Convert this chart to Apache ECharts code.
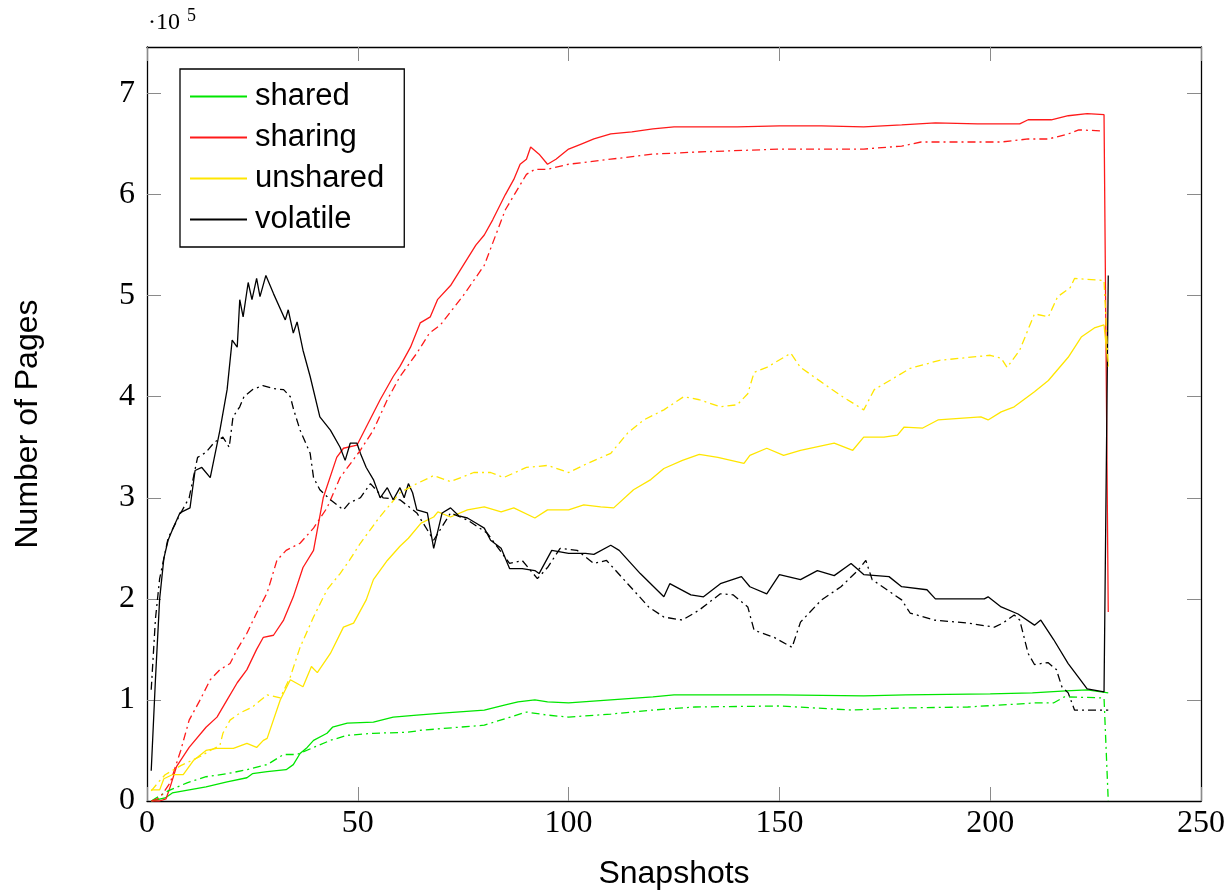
<!DOCTYPE html>
<html><head><meta charset="utf-8">
<script src="https://cdn.jsdelivr.net/npm/echarts/dist/echarts.min.js"></script>
<style>html,body{margin:0;padding:0;background:#fff}#c{width:1230px;height:895px}</style>
</head><body><div id="c"></div>
<script>
// All page counts are in units of 10^5 pages (as on the chart's y axis).
const seriesNames = ['shared', 'sharing', 'unshared', 'volatile'];
const xTicks = [0, 50, 100, 150, 200, 250];
const yTicks = [0, 1, 2, 3, 4, 5, 6, 7];

// volatile (solid)
const volatileX = [1, 2, 3, 4, 5, 6.2, 7.8, 10.2, 11.4, 13, 15, 17.3, 19, 20.2, 21.4, 22, 22.8, 24, 24.9, 26, 26.8, 28.2, 30, 32.8, 33.5, 34.7, 35.6, 37, 38.7, 41, 43.5, 45.8, 47, 48.2, 49.8, 50.6, 52, 53.7, 55.3, 57, 58.4, 60, 61, 62, 63, 64, 66.5, 68, 70, 72, 74, 76, 78, 80, 81.5, 84, 86, 89, 92, 93, 96, 100, 104, 106, 110, 112, 117, 122.6, 124, 129, 132, 136, 141, 143, 147, 150, 155, 159, 163, 167, 170, 176, 179, 185, 187, 198.6, 199.5, 202.6, 206.6, 210.5, 212, 215, 218.5, 221, 223, 227, 228];
const volatileY = [0.3, 1.2, 2.0, 2.4, 2.58, 2.7, 2.85, 2.9, 3.27, 3.3, 3.2, 3.67, 4.07, 4.56, 4.49, 4.96, 4.79, 5.13, 4.96, 5.17, 4.99, 5.2, 5.02, 4.76, 4.86, 4.63, 4.74, 4.46, 4.2, 3.8, 3.67, 3.5, 3.37, 3.54, 3.54, 3.44, 3.3, 3.18, 3.0, 3.1, 2.98, 3.1, 3.0, 3.14, 3.05, 2.88, 2.85, 2.5, 2.85, 2.9, 2.82, 2.8, 2.75, 2.7, 2.58, 2.5, 2.3, 2.3, 2.28, 2.25, 2.48, 2.45, 2.45, 2.44, 2.53, 2.48, 2.25, 2.02, 2.15, 2.04, 2.02, 2.15, 2.22, 2.12, 2.05, 2.24, 2.19, 2.28, 2.23, 2.35, 2.24, 2.22, 2.12, 2.09, 2.0, 2.0, 2.02, 1.92, 1.85, 1.74, 1.79, 1.6, 1.36, 1.22, 1.11, 1.08, 5.2];
// volatile (second run, dash-dot)
const volatile2X = [1, 2, 3, 5, 8, 10, 12, 14, 16, 18, 19.5, 20.4, 22, 23, 25, 27.5, 30, 32.4, 34, 34.8, 36.3, 38.7, 39.5, 41, 43.5, 46.6, 48, 50.6, 53, 56, 60, 64, 68, 72, 76, 80.7, 86, 89, 92.6, 95, 98, 102, 106, 109, 114, 119, 122.6, 127, 131, 136, 139, 142.5, 144, 148.7, 153, 155, 160, 164.6, 168.6, 170.5, 172, 179, 181, 186.7, 194.7, 201, 203, 205.7, 207, 209, 210.5, 213.7, 215.7, 217, 218.5, 220, 228];
const volatile2Y = [1.1, 1.8, 2.2, 2.6, 2.85, 3.0, 3.4, 3.45, 3.55, 3.6, 3.5, 3.8, 3.9, 4.0, 4.07, 4.11, 4.08, 4.07, 4.0, 3.87, 3.67, 3.44, 3.2, 3.08, 2.98, 2.88, 2.95, 3.0, 3.14, 3.0, 2.98, 2.85, 2.58, 2.85, 2.78, 2.65, 2.35, 2.38, 2.2, 2.31, 2.5, 2.48, 2.35, 2.38, 2.15, 1.92, 1.82, 1.79, 1.89, 2.05, 2.04, 1.92, 1.69, 1.62, 1.52, 1.77, 1.99, 2.12, 2.28, 2.38, 2.19, 1.99, 1.86, 1.79, 1.76, 1.72, 1.76, 1.84, 1.79, 1.46, 1.35, 1.37, 1.3, 1.13, 1.07, 0.9, 0.9];

// sharing (solid)
const sharingX = [1, 3, 4.5, 5.5, 7, 10, 14, 16.6, 19, 21.4, 23.7, 26, 27.6, 30, 32.4, 34.7, 37, 39.5, 41.8, 45, 46.6, 49.8, 52, 55.3, 58.4, 60, 62.5, 64.8, 67.2, 68.9, 72, 75, 78, 80, 82, 85, 87, 88.5, 90, 91, 93, 95, 97, 100, 103, 106, 110, 115, 120, 125, 130, 140, 150, 160, 170, 179, 187, 197, 207, 209, 214.5, 218.5, 223, 227, 228];
const sharingY = [0, 0, 0.02, 0.14, 0.34, 0.53, 0.73, 0.83, 1.0, 1.17, 1.3, 1.5, 1.62, 1.64, 1.79, 2.02, 2.31, 2.48, 3.0, 3.4, 3.49, 3.52, 3.7, 3.97, 4.2, 4.3, 4.49, 4.73, 4.79, 4.96, 5.1, 5.3, 5.5, 5.6, 5.75, 6.0, 6.15, 6.3, 6.35, 6.47, 6.4, 6.3, 6.35, 6.45, 6.5, 6.55, 6.6, 6.62, 6.65, 6.67, 6.67, 6.67, 6.68, 6.68, 6.67, 6.69, 6.71, 6.7, 6.7, 6.74, 6.74, 6.78, 6.8, 6.79, 1.87];
// sharing (dash-dot)
const sharing2X = [1, 3, 5.5, 8, 10, 12.6, 15, 17.3, 19.7, 21.4, 23.7, 26, 28.5, 30.8, 33, 36.3, 39.5, 42.7, 45.8, 50.6, 53.7, 57, 60, 64, 67, 69.6, 75, 80, 85, 90, 92, 95, 100, 110, 120, 130, 150, 170, 179, 183.6, 202.6, 209, 213.8, 218.5, 221, 226.4];
const sharing2Y = [0, 0.03, 0.18, 0.5, 0.8, 1.0, 1.2, 1.3, 1.36, 1.5, 1.66, 1.86, 2.06, 2.38, 2.48, 2.55, 2.7, 2.9, 3.2, 3.47, 3.67, 3.97, 4.2, 4.43, 4.63, 4.71, 5.0, 5.3, 5.85, 6.2, 6.25, 6.25, 6.3, 6.35, 6.4, 6.42, 6.45, 6.45, 6.48, 6.52, 6.52, 6.55, 6.55, 6.6, 6.64, 6.63];

// unshared (solid)
const unsharedX = [1, 3, 4, 6, 8.6, 11, 14, 16.5, 20.5, 23.7, 26, 27.6, 28.5, 31.6, 34, 37, 39, 40.4, 43.5, 46.6, 49, 52, 53.7, 57, 60, 62, 65, 68, 69, 72, 76, 80, 84, 87, 92, 95, 100, 103.6, 107.6, 110.7, 115.4, 119.5, 122.6, 127, 131, 135.4, 141.6, 143, 147, 151, 155, 163, 167.4, 170, 174.8, 178, 179.6, 184, 187.6, 197.8, 199.5, 202.6, 205.7, 210.5, 213.8, 218.5, 221.6, 224.7, 227, 228];
const unsharedY = [0.11, 0.11, 0.22, 0.26, 0.26, 0.4, 0.5, 0.52, 0.52, 0.57, 0.53, 0.6, 0.62, 1.0, 1.2, 1.13, 1.33, 1.27, 1.46, 1.72, 1.76, 1.99, 2.19, 2.38, 2.52, 2.6, 2.75, 2.81, 2.86, 2.81, 2.88, 2.91, 2.86, 2.9, 2.8, 2.88, 2.88, 2.93, 2.91, 2.9, 3.08, 3.18, 3.29, 3.37, 3.43, 3.4, 3.34, 3.42, 3.49, 3.42, 3.47, 3.54, 3.47, 3.6, 3.6, 3.62, 3.7, 3.69, 3.77, 3.8, 3.77, 3.85, 3.9, 4.05, 4.16, 4.39, 4.59, 4.68, 4.71, 4.3];
// unshared (dash-dot)
const unshared2X = [1, 3, 4.3, 8, 12.6, 15, 17.3, 18, 19.7, 22, 25, 28.5, 31.6, 34, 36.3, 39.5, 42.7, 45.8, 48, 50.6, 55, 60, 64, 68, 72, 77.5, 81.5, 84.6, 90, 95, 100, 104.5, 110, 114, 117.8, 122.6, 127.3, 131, 136, 140, 142.5, 144, 147, 152.7, 155, 161.5, 165, 170, 172.5, 181, 188, 200, 202.6, 204, 207, 210.5, 213.8, 216, 219, 220, 227, 228];
const unshared2Y = [0.1, 0.2, 0.26, 0.35, 0.44, 0.5, 0.55, 0.67, 0.8, 0.87, 0.93, 1.05, 1.02, 1.23, 1.52, 1.82, 2.09, 2.25, 2.38, 2.55, 2.8, 3.05, 3.14, 3.22, 3.16, 3.25, 3.25, 3.2, 3.3, 3.32, 3.25, 3.34, 3.44, 3.64, 3.77, 3.87, 4.0, 3.97, 3.9, 3.92, 4.03, 4.24, 4.29, 4.43, 4.29, 4.1, 4.0, 3.87, 4.07, 4.28, 4.36, 4.41, 4.38, 4.29, 4.46, 4.82, 4.79, 4.99, 5.08, 5.17, 5.15, 4.3];

// shared (solid)
const sharedX = [1, 4.3, 6, 10, 14, 19, 23.7, 25, 28.5, 33, 34.7, 36.3, 38, 39.5, 42.7, 44, 47.5, 53.7, 58.4, 64, 70, 80, 85, 88, 92, 95, 100, 110, 120, 125, 130, 150, 170, 180, 200, 210, 218, 223, 228];
const sharedY = [0, 0.03, 0.08, 0.11, 0.14, 0.19, 0.23, 0.27, 0.29, 0.31, 0.36, 0.47, 0.53, 0.6, 0.67, 0.73, 0.77, 0.78, 0.83, 0.85, 0.87, 0.9, 0.95, 0.98, 1.0, 0.98, 0.97, 1.0, 1.03, 1.05, 1.05, 1.05, 1.04, 1.05, 1.06, 1.07, 1.09, 1.1, 1.07];
// shared (dash-dot)
const shared2X = [1, 3, 5, 9.5, 14, 19, 23.7, 28.5, 32.4, 35.6, 39.5, 43.5, 47.5, 53.7, 61.8, 65, 80, 90, 95, 100, 110, 120, 130, 150, 167, 179, 194.7, 210.5, 215, 217.6, 227, 228];
const shared2Y = [0, 0.05, 0.1, 0.18, 0.24, 0.27, 0.31, 0.36, 0.46, 0.46, 0.53, 0.6, 0.65, 0.67, 0.68, 0.7, 0.75, 0.88, 0.85, 0.83, 0.86, 0.9, 0.93, 0.94, 0.9, 0.92, 0.93, 0.97, 0.97, 1.03, 1.02, 0];

const colors = { shared: '#00e600', sharing: '#ff1a1a', unshared: '#ffe600', volatile: '#000000' };
const DASHDOT = [8, 4, 2, 4];

function pairs(xs, ys) { return xs.map((x, i) => [x, ys[i]]); }
function mk(name, key, xs, ys, dashed) {
  return {
    type: 'line', name: name, data: pairs(xs, ys), symbol: 'none', showSymbol: false,
    silent: true, animation: false, clip: true,
    lineStyle: { color: colors[key], width: 1.3, type: dashed ? DASHDOT : 'solid' },
    itemStyle: { color: colors[key] }
  };
}

const series = [
  mk('shared', 'shared', sharedX, sharedY, false),
  mk('sharing', 'sharing', sharingX, sharingY, false),
  mk('unshared', 'unshared', unsharedX, unsharedY, false),
  mk('volatile', 'volatile', volatileX, volatileY, false),
  mk('shared run 2', 'shared', shared2X, shared2Y, true),
  mk('sharing run 2', 'sharing', sharing2X, sharing2Y, true),
  mk('unshared run 2', 'unshared', unshared2X, unshared2Y, true),
  mk('volatile run 2', 'volatile', volatile2X, volatile2Y, true)
];

const serif = 'Liberation Serif';
const sans = 'Liberation Sans';
const tickStyle = { show: true, inside: true, length: 14, lineStyle: { color: '#8a8a8a', width: 1 } };
const lineStyleAxis = { show: true, onZero: false, lineStyle: { color: '#000', width: 1.3 } };
const xMin = xTicks[0], xMax = xTicks[xTicks.length - 1], xStep = xTicks[1] - xTicks[0];
const yStep = yTicks[1] - yTicks[0];
const yMax = 7.46;
const intLabel = v => (Math.abs(v - Math.round(v)) < 1e-9 && yTicks.indexOf(Math.round(v)) >= 0) ? String(Math.round(v)) : '';

const chart = echarts.init(document.getElementById('c'), null, { renderer: 'canvas' });
chart.setOption({
  animation: false,
  backgroundColor: '#fff',
  graphic: [
    { type: 'text', left: 148, top: 11, silent: true,
      style: { text: '·10', fontSize: 24, fontFamily: serif, fill: '#000' } },
    { type: 'text', left: 187, top: 7, silent: true,
      style: { text: '5', fontSize: 18, fontFamily: serif, fill: '#000' } }
  ],
  grid: { left: 147, right: 29, top: 47, bottom: 94, containLabel: false },
  legend: {
    data: seriesNames, orient: 'vertical', left: 180, top: 69,
    padding: [12, 20, 12, 10], itemGap: 10, itemWidth: 57, itemHeight: 2, icon: 'rect',
    borderColor: '#000', borderWidth: 1.3, backgroundColor: '#fff', borderRadius: 0,
    textStyle: { fontFamily: sans, fontSize: 31, color: '#000', padding: [0, 0, 0, 3] },
    selectedMode: false
  },
  xAxis: [
    { type: 'value', min: xMin, max: xMax, interval: xStep, position: 'bottom', z: 2,
      axisLine: lineStyleAxis, axisTick: tickStyle, splitLine: { show: false },
      axisLabel: { fontFamily: serif, fontSize: 32, color: '#000', margin: 7 },
      name: 'Snapshots', nameLocation: 'middle', nameGap: 57,
      nameTextStyle: { fontFamily: sans, fontSize: 32, color: '#000' } },
    { type: 'value', min: xMin, max: xMax, interval: xStep, position: 'top', z: 5,
      axisLine: lineStyleAxis, axisTick: tickStyle, splitLine: { show: false },
      axisLabel: { show: false } }
  ],
  yAxis: [
    { type: 'value', min: 0, max: yMax, interval: yStep, position: 'left', z: 1,
      axisLine: lineStyleAxis, axisTick: tickStyle, splitLine: { show: false },
      axisLabel: { fontFamily: serif, fontSize: 32, color: '#000', margin: 12, formatter: intLabel, showMaxLabel: false },
      name: 'Number of Pages', nameLocation: 'middle', nameGap: 103, nameRotate: 90,
      nameTextStyle: { fontFamily: sans, fontSize: 32, color: '#000' } },
    { type: 'value', min: 0, max: yMax, interval: yStep, position: 'right', z: 1,
      axisLine: lineStyleAxis, axisTick: tickStyle, splitLine: { show: false },
      axisLabel: { show: false } }
  ],
  series: series
});
</script>
</body></html>
